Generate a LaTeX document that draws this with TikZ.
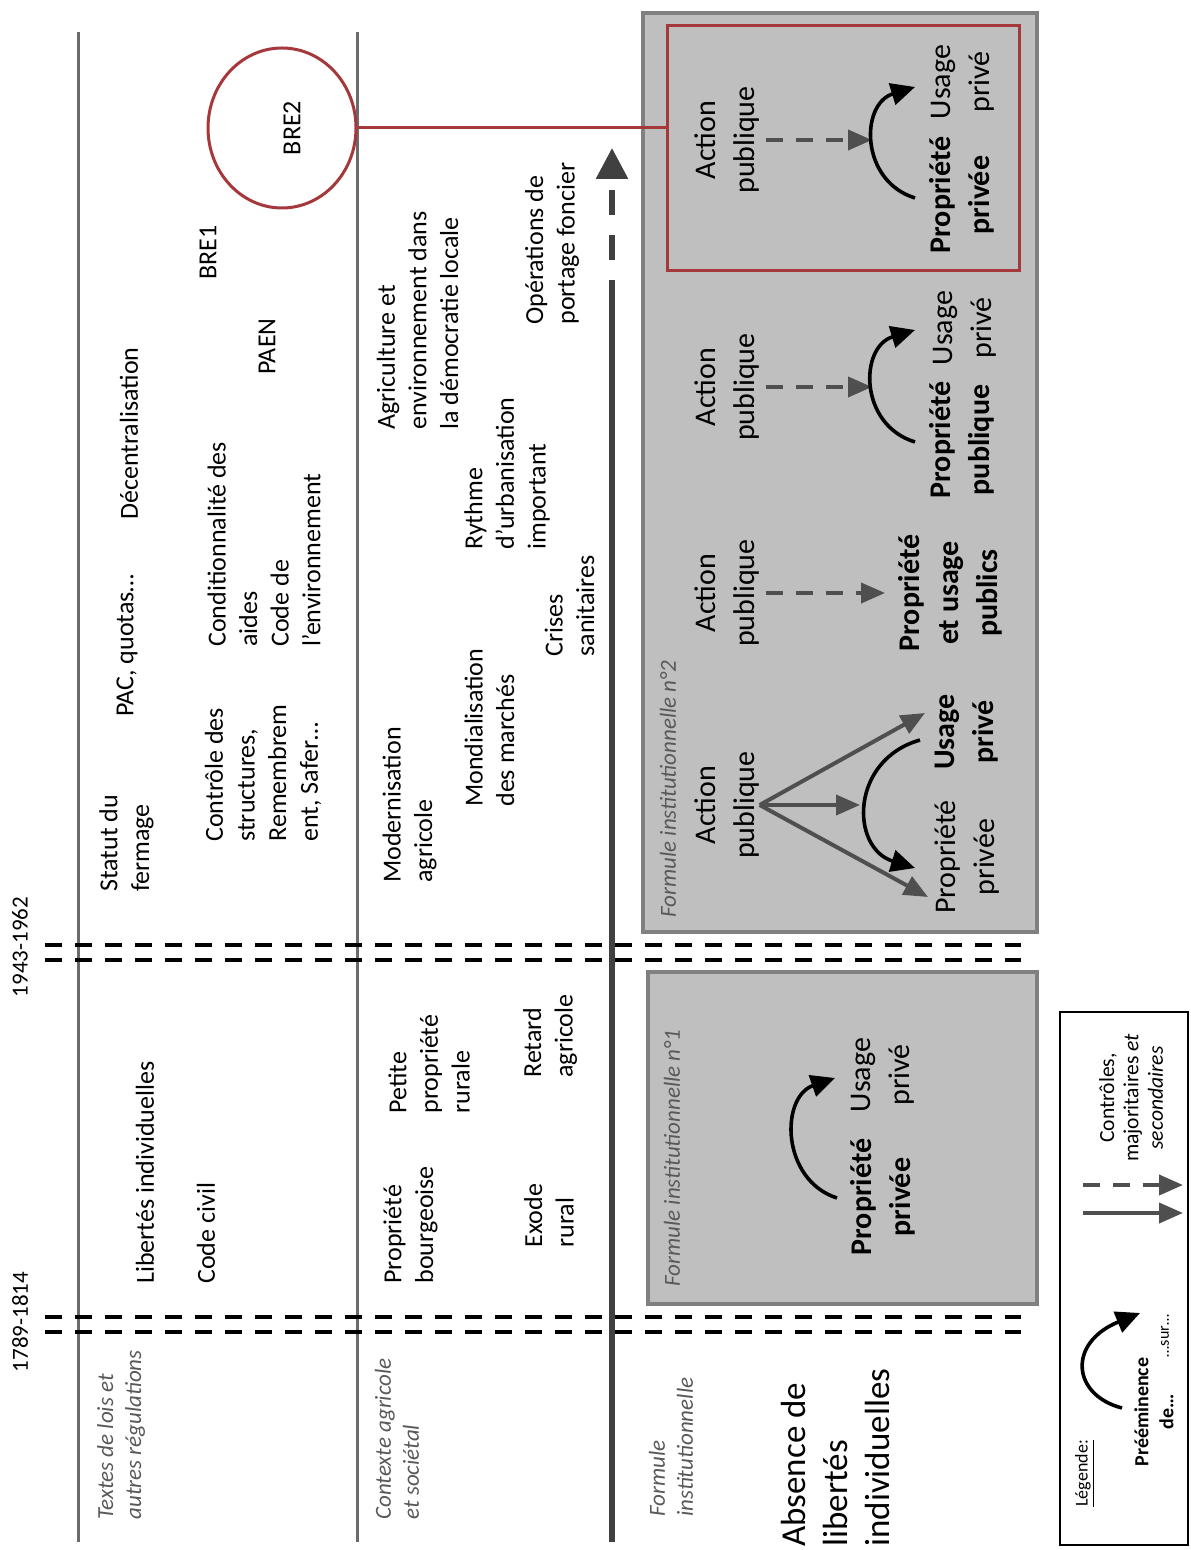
\documentclass[tikz,border=0pt]{standalone}
\usepackage{fontspec}
\setmainfont{Carlito}
\usepackage{tikz}
\usetikzlibrary{arrows.meta,shapes.geometric}
\pgfdeclarelayer{bg}
\pgfsetlayers{bg,main}
\definecolor{boxgray}{HTML}{BFBFBF}
\definecolor{bordergray}{HTML}{808080}
\definecolor{linegray}{HTML}{6B6B6B}
\definecolor{darkline}{HTML}{404040}
\definecolor{arrowgray}{HTML}{4F4F4F}
\definecolor{labelgray}{HTML}{595959}
\definecolor{brered}{HTML}{A5383A}
\tikzset{
  txt/.style={rotate=90, anchor=west, align=left, inner sep=0pt, font=\fontsize{13}{15.8}\selectfont},
  rubrique/.style={txt, text=labelgray, font=\fontsize{11.5}{14}\selectfont\itshape},
  annee/.style={rotate=90, inner sep=0pt, font=\fontsize{11.5}{14}\selectfont},
  grand/.style={txt, font=\fontsize{17.5}{21}\selectfont},
  panneau/.style={rotate=90, align=center, inner sep=0pt, font=\fontsize{15}{19.5}\selectfont},
  gras/.style={panneau, font=\fontsize{15}{19.5}\selectfont\bfseries},
  legtxt/.style={rotate=90, align=center, inner sep=0pt, font=\fontsize{8}{11.5}\selectfont},
  sep/.style={line width=1.5pt, draw=linegray},
  axe/.style={line width=3pt, draw=darkline},
  coupure/.style={line width=2pt, dash pattern=on 8.5pt off 6.5pt},
  formbox/.style={draw=bordergray, fill=boxgray, line width=2pt, inner sep=0pt},
  redbox/.style={draw=brered, line width=1.5pt, inner sep=0pt},
  legbox/.style={draw=black, line width=0.8pt, inner sep=0pt},
  bre/.style={ellipse, draw=brered, line width=1.5pt, minimum width=74pt, minimum height=80pt, inner sep=0pt},
  ctrl/.style={draw=arrowgray, line width=2pt, -{Triangle[length=12pt,width=10pt]}},
  ctrlsec/.style={ctrl, dash pattern=on 8.5pt off 6.5pt},
  preem/.style={draw=black, line width=1.8pt, -{Triangle[length=12pt,width=11pt]}}
}
\begin{document}
\begin{tikzpicture}[x=0.5pt, y=-0.5pt]
\useasboundingbox (0,0) rectangle (1190,1550);
        % cadres des formules
        \begin{pgfonlayer}{bg}
                \node (fi2) [formbox, minimum width=197pt, minimum height=459.5pt] at (840,472.5) {};
                \node (fi1) [formbox, minimum width=194.5pt, minimum height=166pt] at (842.5,1138) {};
                \node (bre2box) [redbox, minimum width=176pt, minimum height=122.5pt] at (843,148.5) {};
                \node (legende) [legbox, minimum width=64pt, minimum height=266.5pt] at (1124,1278.5) {};
        \end{pgfonlayer}
        % lignes
        \foreach \x in {78,357} \draw[sep] (\x,32) -- (\x,1542);
        \coordinate (tl0) at (612,1542);
        \coordinate (tl1) at (612,280);
        \coordinate (tl2) at (612,260);
        \coordinate (tl3) at (612,148);
        \draw[axe] (tl0) -- (tl1);
        \draw[axe, dash pattern=on 12.5pt off 10pt, -{Triangle[length=15.5pt,width=15.5pt]}] (tl2) -- (tl3);
        \foreach \y in {945,960,1317,1332} \draw[coupure] (45,\y) -- (1021,\y);
        \node (an1) [annee] at (20,1322) {1789-1814};
        \node (an2) [annee] at (20,947) {1943-1962};
        % textes de lois
        \node (lois) [rubrique] at (121,1520) {Textes de lois et\\autres régulations};
        \node (libertes) [txt] at (145,1284) {Libertés individuelles};
        \node (codeciv) [txt] at (206,1284) {Code civil};
        \node (statut) [txt] at (126.5,892) {Statut du\\fermage};
        \node (pac) [txt] at (127,717) {PAC, quotas…};
        \node (decentr) [txt] at (129,520) {Décentralisation};
        \node (controle) [txt] at (263,842) {Contrôle des\\structures,\\Remembrem\\ent, Safer…};
        \node (condit) [txt] at (264,647) {Conditionnalité des\\aides\\Code de\\l’environnement};
        \node (paen) [txt] at (267,375) {PAEN};
        \node (bre1) [txt] at (208,280) {BRE1};
        \node (bre2) [bre] at (282,128) {};
        \node (bre2t) [txt, anchor=center] at (292,128) {BRE2};
        % contexte
        \node (contexte) [rubrique] at (397,1520) {Contexte agricole\\et sociétal};
        \node (bourg) [txt] at (410.5,1284) {Propriété\\bourgeoise};
        \node (petite) [txt] at (429,1114) {Petite\\propriété\\rurale};
        \node (exode) [txt] at (549,1248) {Exode\\rural};
        \node (retard) [txt] at (550,1078) {Retard\\agricole};
        \node (modern) [txt] at (409.5,883) {Modernisation\\agricole};
        \node (mondial) [txt] at (489.5,807) {Mondialisation\\des marchés};
        \node (crises) [txt] at (569.5,657) {Crises\\sanitaires};
        \node (rythme) [txt] at (507,550) {Rythme\\d’urbanisation\\important};
        \node (agrienv) [txt] at (417.5,430) {Agriculture et\\environnement dans\\la démocratie locale};
        \node (portage) [txt] at (552,325) {Opérations de\\portage foncier};
        % formules
        \node (formule) [rubrique] at (671,1517) {Formule\\institutionnelle};
        \node (absence) [grand] at (835,1547) {Absence de\\libertés\\individuelles};
        \node (fi1lab) [rubrique] at (672,1287) {Formule institutionnelle n°1};
        \node (fi1prop) [gras] at (883,1197) {Propriété\\privée};
        \node (fi1usage) [panneau] at (883,1075) {Usage\\privé};
        \node (fi2lab) [rubrique] at (668,918) {Formule institutionnelle n°2};
        \node (aAction) [panneau] at (727,805) {Action\\publique};
        \node (aProp) [panneau] at (967,857) {Propriété\\privée};
        \node (aUsage) [gras] at (967,732) {Usage\\privé};
        \node (bAction) [panneau] at (727,593) {Action\\publique};
        \node (bProp) [gras] at (950,593) {Propriété\\et usage\\publics};
        \node (cAction) [panneau] at (727,387) {Action\\publique};
        \node (cProp) [gras] at (962,440) {Propriété\\publique};
        \node (cUsage) [panneau] at (965,328) {Usage\\privé};
        \node (dAction) [panneau] at (727,140) {Action\\publique};
        \node (dProp) [gras] at (962,195) {Propriété\\privée};
        \node (dUsage) [panneau] at (963,82) {Usage\\privé};
        % legende
        \node (legtitre) [txt, font=\fontsize{9}{11}\selectfont] at (1085,1507) {\underline{Légende:}};
        \node (legpre) [legtxt, font=\fontsize{10}{12.5}\selectfont\bfseries] at (1154,1412) {Prééminence\\de…};
        \node (legsur) [legtxt] at (1165,1336) {…sur…};
        \node (legctrl) [legtxt, font=\fontsize{10.8}{12.2}\selectfont] at (1131,1098) {Contrôles,\\majoritaires \textit{et}\\\textit{secondaires}};
        % extremites
        \coordinate (fi1a) at (837,1198);
        \coordinate (fi1b) at (835,1078);
        \coordinate (aTipP) at (928,897);
        \coordinate (aTipM) at (860,805);
        \coordinate (aTipU) at (925,713);
        \coordinate (aCa) at (920,740);
        \coordinate (aCb) at (915,868);
        \coordinate (bTo) at (885,593);
        \coordinate (cMid) at (872,387);
        \coordinate (cCa) at (915,442);
        \coordinate (cCb) at (915,330);
        \coordinate (dMid) at (872,140);
        \coordinate (dCa) at (915,198);
        \coordinate (dCb) at (915,87);
        \coordinate (legCa) at (1122,1408);
        \coordinate (legCb) at (1140,1313);
        \coordinate (legS1) at (1083,1185);
        \coordinate (legS2) at (1183,1185);
        \coordinate (legM1) at (1083,1213);
        \coordinate (legM2) at (1183,1213);
        % connecteurs
        \draw[brered, line width=1.5pt] (bre2.east) -- (bre2.east -| bre2box.west);
        \draw[preem] (fi1a) .. controls (781,1180) and (780,1097) .. (fi1b);
        \draw (aAction.south) edge [ctrl] (aTipP);
        \draw (aAction.south) edge [ctrl] (aTipM);
        \draw (aAction.south) edge [ctrl] (aTipU);
        \draw[preem] (aCa) .. controls (850,760) and (850,848) .. (aCb);
        \draw (bAction) edge [ctrlsec, shorten <=3pt] (bTo);
        \draw (cAction) edge [ctrlsec, shorten <=3pt] (cMid);
        \draw[preem] (cCa) .. controls (859,425) and (859,347) .. (cCb);
        \draw (dAction) edge [ctrlsec, shorten <=3pt] (dMid);
        \draw[preem] (dCa) .. controls (860,181) and (860,104) .. (dCb);
        \draw[preem] (legCa) .. controls (1072,1395) and (1067,1343) .. (legCb);
        \draw (legS1) edge [ctrlsec] (legS2);
        \draw (legM1) edge [ctrl] (legM2);
\end{tikzpicture}
\end{document}
